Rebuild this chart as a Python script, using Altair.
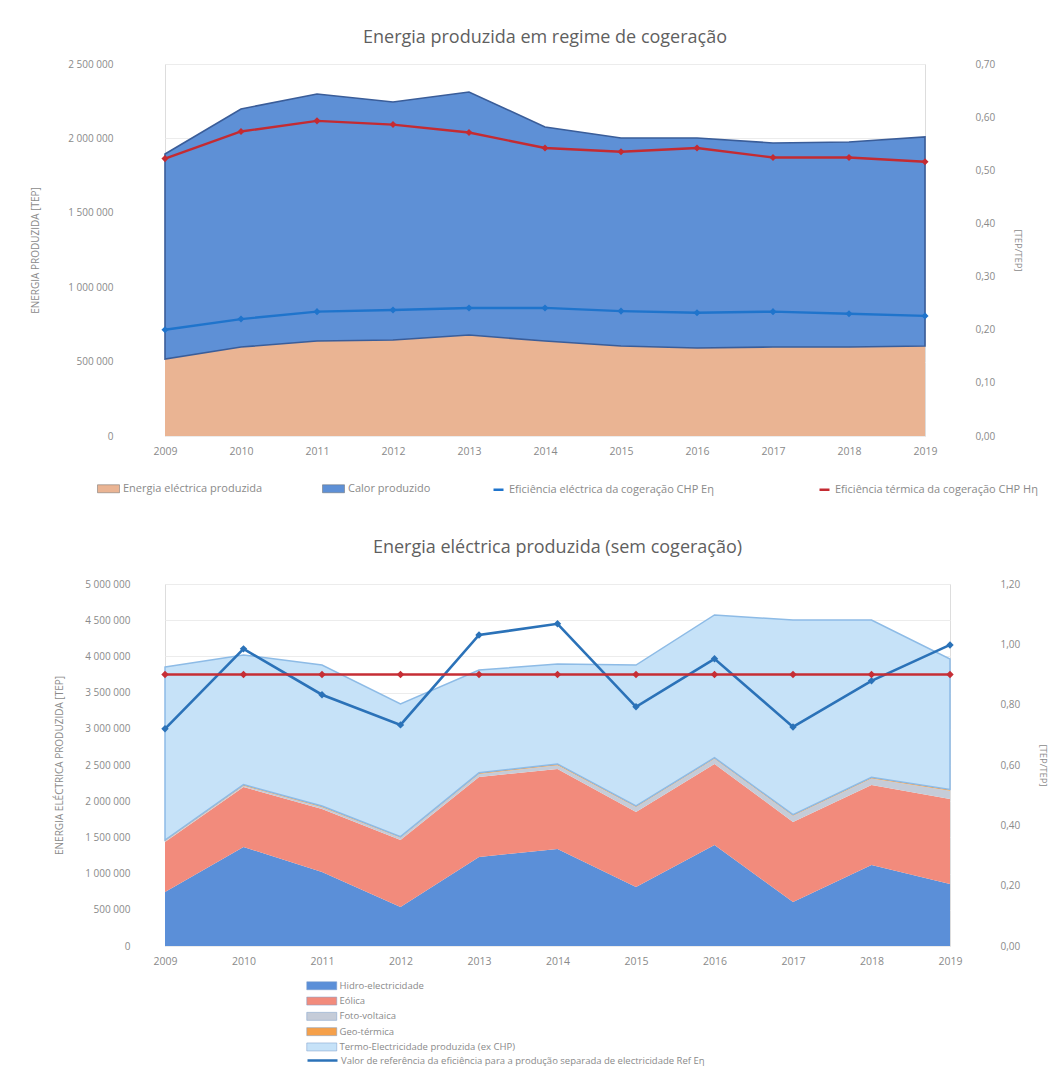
import altair as alt
import pandas as pd

years = [2009, 2010, 2011, 2012, 2013, 2014, 2015, 2016, 2017, 2018, 2019]

# ---- Top chart: Energia produzida em regime de cogeração ----
top_area_names = ["Energia eléctrica produzida", "Calor produzido"]
energia_electrica = [517000, 598000, 638000, 645000, 679000, 638000, 605000, 591000, 598000, 598000, 605000]
calor = [1378000, 1600000, 1660000, 1600000, 1633000, 1439000, 1398000, 1412000, 1371000, 1378000, 1405000]

top_line_names = ["Eficiência eléctrica da cogeração CHP Eη", "Eficiência térmica da cogeração CHP Hη"]
ef_electrica = [0.200, 0.220, 0.234, 0.237, 0.241, 0.241, 0.235, 0.232, 0.234, 0.230, 0.226]
ef_termica = [0.522, 0.573, 0.593, 0.586, 0.571, 0.542, 0.535, 0.542, 0.524, 0.524, 0.516]

top_left_ticks = [0, 500000, 1000000, 1500000, 2000000, 2500000]
top_right_ticks = [0.0, 0.1, 0.2, 0.3, 0.4, 0.5, 0.6, 0.7]

# ---- Bottom chart: Energia eléctrica produzida (sem cogeração) ----
bottom_area_names = ["Hidro-electricidade", "Eólica", "Foto-voltaica", "Geo-térmica",
                     "Termo-Electricidade produzida (ex CHP)"]
hidro = [746000, 1367000, 1022000, 539000, 1229000, 1340000, 815000, 1395000, 608000, 1119000, 856000]
eolica = [690000, 829000, 870000, 925000, 1105000, 1105000, 1036000, 1119000, 1105000, 1105000, 1174000]
foto = [13000, 18000, 24000, 34000, 41000, 52000, 68000, 72000, 85000, 88000, 115000]
geo = [15000, 16000, 18000, 13000, 17000, 18000, 17000, 15000, 17000, 19000, 18000]
termo = [2389000, 1789000, 1947000, 1832000, 1420000, 1380000, 1945000, 1971000, 2688000, 2172000, 1801000]

ref_name = "Valor de referência da eficiência para a produção separada de electricidade Ref Eη"
ref_eq = [0.720, 0.985, 0.833, 0.733, 1.031, 1.068, 0.793, 0.952, 0.726, 0.879, 0.998]
ref_harmonizado = [0.90, 0.90, 0.90, 0.90, 0.90, 0.90, 0.90, 0.90, 0.90, 0.90, 0.90]

bottom_left_ticks = [0, 500000, 1000000, 1500000, 2000000, 2500000, 3000000, 3500000, 4000000, 4500000, 5000000]
bottom_right_ticks = [0.0, 0.2, 0.4, 0.6, 0.8, 1.0, 1.2]

# ---- styles ----
FONT = "Open Sans"
GRAY = "#8a8a8a"
TITLE_GRAY = "#5f5f5f"
thousands_expr = "replace(format(datum.value, ',d'), regexp(',', 'g'), ' ')"
decimal_expr = "replace(format(datum.value, '.2f'), '.', ',')"
RECT_TOP = "M-2.75,-1H2.75V1H-2.75Z"
RECT_BOT = "M-3.75,-1H3.75V1H-3.75Z"

def long_df(names, series):
    rows = []
    for k, (n, s) in enumerate(zip(names, series)):
        for y, v in zip(years, s):
            rows.append({"ano": y, "serie": n, "valor": v, "ordem": k})
    return pd.DataFrame(rows)

def x_enc():
    return alt.X("ano:Q", scale=alt.Scale(domain=[2009, 2019], nice=False, zero=False),
                 axis=alt.Axis(values=years, format="d", title=None, grid=False, domain=False,
                               ticks=False, labelColor=GRAY, labelFontSize=10.5, labelPadding=10,
                               labelFont=FONT, labelFlush=False))

# Top chart
df_top_area = long_df(top_area_names, [energia_electrica, calor])
df_top_line = long_df(top_line_names, [ef_electrica, ef_termica])

top_area = alt.Chart(df_top_area).mark_area(strokeWidth=1.6, opacity=1).encode(
    x=x_enc(),
    y=alt.Y("valor:Q", stack="zero",
            scale=alt.Scale(domain=[0, 2500000], nice=False),
            axis=alt.Axis(values=top_left_ticks, labelExpr=thousands_expr, title="ENERGIA PRODUZIDA [TEP]",
                          grid=True, gridColor="#ececec", domain=False, ticks=False,
                          labelColor=GRAY, labelFontSize=10, labelFont=FONT, labelPadding=52,
                          titleColor=GRAY, titleFontSize=10, titleFontWeight="normal", titleFont=FONT,
                          titlePadding=27)),
    fill=alt.Fill("serie:N", scale=alt.Scale(domain=top_area_names, range=["#EAB493", "#5E90D6"]),
                  legend=alt.Legend(title=None, orient="none", legendX=-62, legendY=419,
                                    direction="horizontal", columns=2, columnPadding=58,
                                    symbolType=RECT_TOP, symbolSize=64, symbolStrokeColor="#6a6a6a",
                                    symbolStrokeWidth=0.5, labelLimit=0,
                                    labelFontSize=11, labelColor=GRAY, labelFont=FONT, labelOffset=9)),
    stroke=alt.condition("datum.serie == 'Calor produzido'", alt.value("#3A5D99"), alt.value("transparent")),
    order=alt.Order("ordem:Q"),
)

top_lines = alt.Chart(df_top_line).mark_line(
    strokeWidth=2.4,
    point=alt.OverlayMarkDef(shape="diamond", size=50, filled=True),
).encode(
    x=x_enc(),
    y=alt.Y("valor:Q", scale=alt.Scale(domain=[0, 0.7], nice=False),
            axis=alt.Axis(orient="right", values=top_right_ticks, labelExpr=decimal_expr, title="[TEP/TEP]",
                          grid=False, domain=False, ticks=False, labelColor=GRAY, labelFontSize=10,
                          labelFont=FONT, labelPadding=50, titleColor=GRAY, titleFontSize=9.5,
                          titleFontWeight="normal", titleFont=FONT, titlePadding=18)),
    color=alt.Color("serie:N", scale=alt.Scale(domain=top_line_names, range=["#1F74CC", "#C42B32"]),
                    legend=alt.Legend(title=None, orient="none", legendX=327, legendY=419,
                                      direction="horizontal", columns=2, columnPadding=100,
                                      symbolType="stroke", symbolStrokeWidth=2.5, symbolSize=100,
                                      labelLimit=0,
                                      labelFontSize=11, labelColor=GRAY, labelFont=FONT, labelOffset=4)),
)

top = alt.layer(top_area, top_lines).resolve_scale(y="independent", fill="independent",
                                                     color="independent").properties(
    width=760, height=372,
    title=alt.TitleParams("Energia produzida em regime de cogeração", fontSize=18, color=TITLE_GRAY,
                          font=FONT, fontWeight="normal", offset=12),
)

# Bottom chart
df_bot_area = long_df(bottom_area_names, [hidro, eolica, foto, geo, termo])
df_ref = long_df([ref_name], [ref_eq])
df_harm = long_df(["Referência harmonizada"], [ref_harmonizado])

bot_area = alt.Chart(df_bot_area).mark_area(strokeWidth=1.5, opacity=1).encode(
    x=x_enc(),
    y=alt.Y("valor:Q", stack="zero",
            scale=alt.Scale(domain=[0, 5000000], nice=False),
            axis=alt.Axis(values=bottom_left_ticks, labelExpr=thousands_expr,
                          title="ENERGIA ELÉCTRICA PRODUZIDA [TEP]",
                          grid=True, gridColor="#ececec", domain=False, ticks=False,
                          labelColor=GRAY, labelFontSize=10, labelFont=FONT, labelPadding=35,
                          titleColor=GRAY, titleFontSize=10, titleFontWeight="normal", titleFont=FONT,
                          titlePadding=20)),
    fill=alt.Fill("serie:N", scale=alt.Scale(domain=bottom_area_names,
                                             range=["#5B8FD8", "#F28B7C", "#C5CCD8", "#F5A04A", "#C6E2F8"]),
                  legend=alt.Legend(title=None, orient="none", legendX=152, legendY=397,
                                    direction="vertical", rowPadding=4.3,
                                    symbolType=RECT_BOT, symbolSize=64, symbolStrokeColor="#7a9cc8",
                                    symbolStrokeWidth=0.5, labelLimit=0,
                                    labelFontSize=9.5, labelColor=GRAY, labelFont=FONT, labelOffset=13)),
    stroke=alt.condition("datum.ordem == 4", alt.value("#8DBBE6"), alt.value("transparent")),
    order=alt.Order("ordem:Q"),
)

right_axis_bot = alt.Axis(orient="right", values=bottom_right_ticks, labelExpr=decimal_expr, title="[TEP/TEP]",
                          grid=False, domain=False, ticks=False, labelColor=GRAY, labelFontSize=10,
                          labelFont=FONT, labelPadding=50, titleColor=GRAY, titleFontSize=9.5,
                          titleFontWeight="normal", titleFont=FONT, titlePadding=18)

bot_ref = alt.Chart(df_ref).mark_line(
    strokeWidth=2.6,
    point=alt.OverlayMarkDef(shape="diamond", size=55, filled=True),
).encode(
    x=x_enc(),
    y=alt.Y("valor:Q", scale=alt.Scale(domain=[0, 1.2], nice=False), axis=right_axis_bot),
    color=alt.Color("serie:N", scale=alt.Scale(domain=[ref_name], range=["#2B72B8"]),
                    legend=alt.Legend(title=None, orient="none", legendX=141, legendY=460,
                                      symbolType="stroke", symbolStrokeWidth=2.5, symbolSize=900,
                                      labelLimit=0,
                                      labelFontSize=9.5, labelColor=GRAY, labelFont=FONT, labelOffset=2)),
)

bot_harm = alt.Chart(df_harm).mark_line(
    strokeWidth=2.6, color="#C62E35",
    point=alt.OverlayMarkDef(shape="diamond", size=55, filled=True, color="#C62E35"),
).encode(
    x=x_enc(),
    y=alt.Y("valor:Q", scale=alt.Scale(domain=[0, 1.2], nice=False), axis=right_axis_bot),
)

bot_lines = alt.layer(bot_ref, bot_harm)

bottom = alt.layer(bot_area, bot_lines).resolve_scale(y="independent", fill="independent",
                                                       color="independent").properties(
    width=785, height=362,
    title=alt.TitleParams("Energia eléctrica  produzida (sem cogeração)", fontSize=18, color=TITLE_GRAY,
                          font=FONT, fontWeight="normal", offset=22),
)

chart = alt.vconcat(top, bottom, spacing=42).properties(
    padding={"left": 30, "top": 28, "right": 10, "bottom": 3},
).configure_view(stroke=None).configure(background="white")

chart.save("out.html", embed_options={"renderer": "svg", "actions": False})
